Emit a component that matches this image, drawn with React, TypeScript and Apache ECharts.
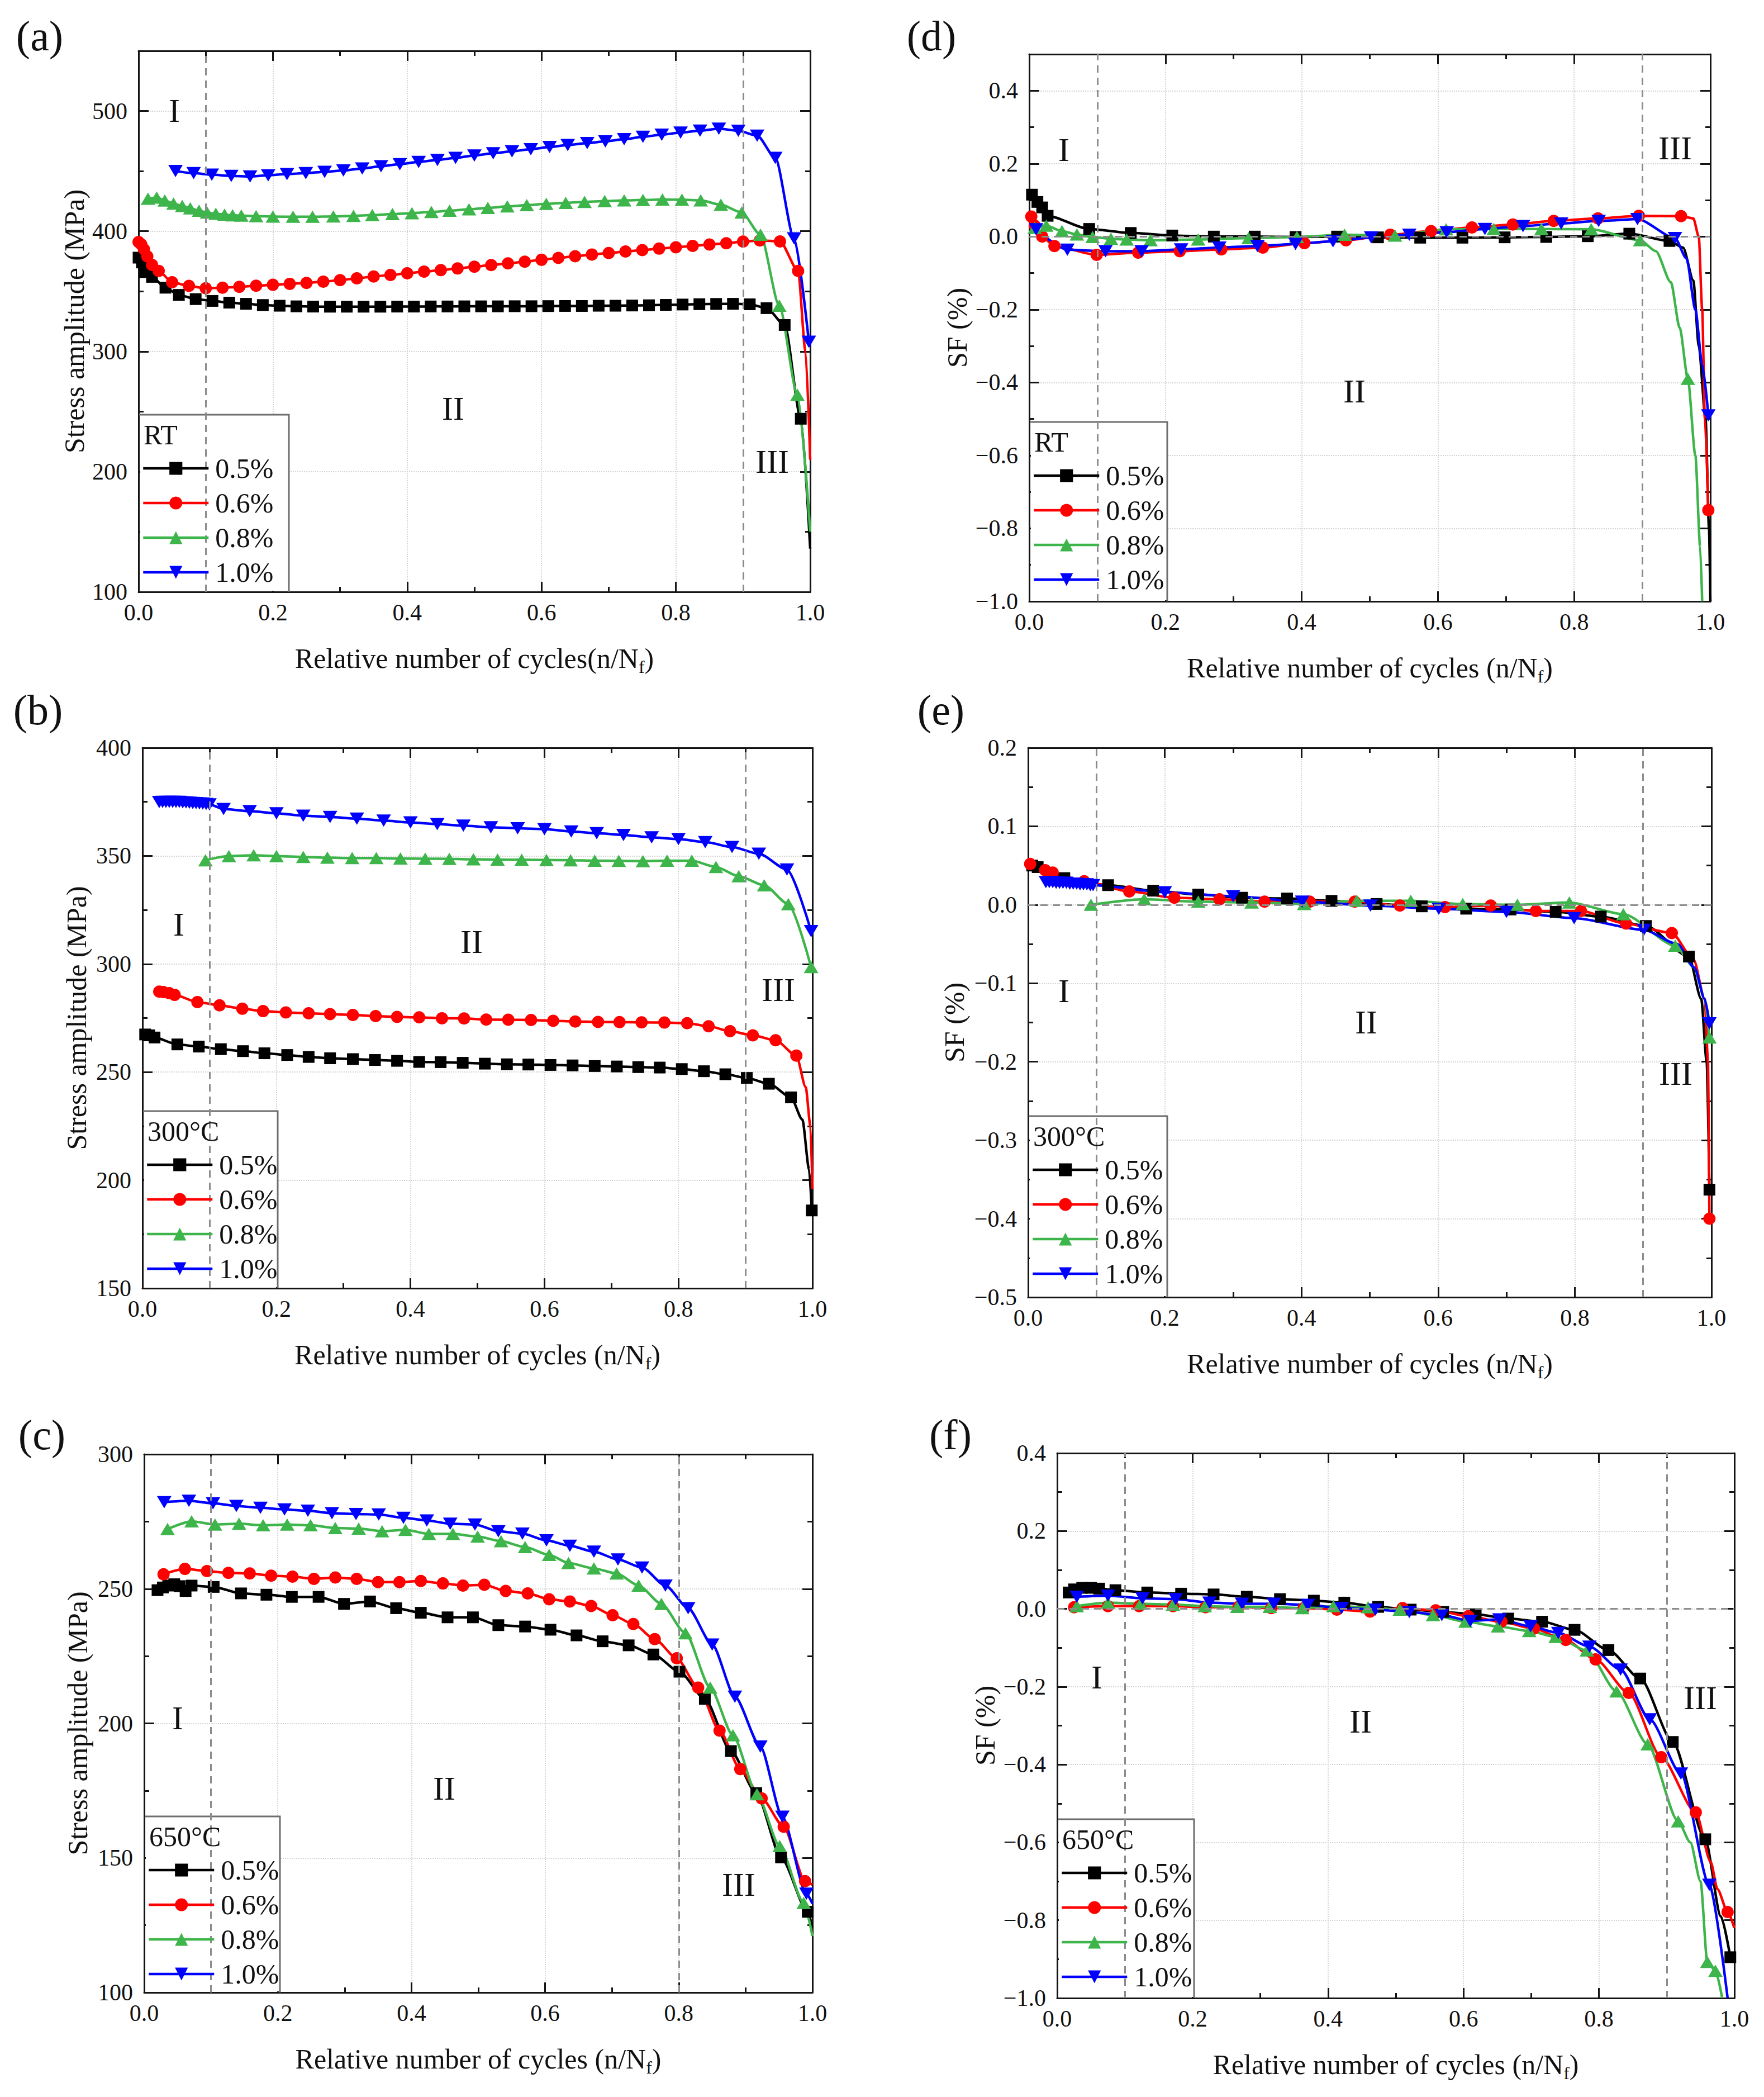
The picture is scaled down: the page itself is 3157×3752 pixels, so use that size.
import React, { useEffect, useRef } from "react";
import * as echarts from "echarts";

type Pt = [number, number];

const W = 3157;
const H = 3752;
const FONT = '"Liberation Serif", "Times New Roman", "DejaVu Serif", serif';

const STRAIN_NAMES = ["0.5%", "0.6%", "0.8%", "1.0%"];
const COLORS = ["#000000", "#ff0000", "#3db54a", "#0000ff"];
const SYMBOLS = ["rect", "circle", "triangle", "triangle"];
const ROTATIONS = [0, 0, 0, 180];
const SYMBOL_SIZES: any[] = [21, 22, [26, 22], [26, 22]];
const X_TICKS_LABEL = "Relative number of cycles";

// ---------------- (a) RT stress amplitude (MPa) ----------------
const S_RT_05: Pt[] = [[0.0,378],[0.005,374],[0.01,366],[0.02,362],[0.04,353],[0.06,347],[0.085,343.5],[0.11,342],[0.135,340.6],[0.16,339.6],[0.185,338.6],[0.21,338],[0.235,337.5],[0.26,337.3],[0.285,337.2],[0.31,337.2],[0.335,337.2],[0.36,337.2],[0.385,337.3],[0.41,337.3],[0.435,337.4],[0.46,337.4],[0.485,337.5],[0.51,337.5],[0.535,337.5],[0.56,337.6],[0.585,337.6],[0.61,337.7],[0.635,337.8],[0.66,337.8],[0.685,338],[0.71,338],[0.735,338.2],[0.76,338.4],[0.785,338.7],[0.81,339],[0.835,339.3],[0.86,339.5],[0.885,339.6],[0.91,339.2],[0.935,336],[0.962,322],[0.986,244]];
const S_RT_05_LINE: Pt[] = [[1.0,136]];
const S_RT_06: Pt[] = [[0.0,391],[0.004,389],[0.008,385],[0.013,379],[0.02,372],[0.03,367],[0.05,357.5],[0.075,354.5],[0.1,352.5],[0.125,353],[0.15,353.7],[0.175,354.6],[0.2,355.4],[0.225,356.2],[0.25,357],[0.275,358],[0.3,359.3],[0.325,360.8],[0.35,362.3],[0.375,363.6],[0.4,365],[0.425,366.4],[0.45,367.6],[0.475,369],[0.5,370.4],[0.525,371.8],[0.55,373.2],[0.575,374.6],[0.6,376.2],[0.625,377.8],[0.65,379.2],[0.675,380.6],[0.7,381.8],[0.725,383.1],[0.75,384.3],[0.775,385.5],[0.8,386.6],[0.825,387.8],[0.85,388.9],[0.875,390],[0.9,391.4],[0.925,392.3],[0.955,391.5],[0.982,367]];
const S_RT_06_LINE: Pt[] = [[0.993,300],[1.0,210]];
const S_RT_08: Pt[] = [[0.014,427],[0.027,428],[0.039,425.5],[0.052,423],[0.065,421],[0.077,419],[0.09,417],[0.102,415.5],[0.115,414.5],[0.128,413.8],[0.14,413.2],[0.153,413],[0.175,412.5],[0.2,412.2],[0.23,412],[0.259,412],[0.29,412.3],[0.32,412.8],[0.348,413.4],[0.378,414.2],[0.407,415],[0.436,416],[0.463,417],[0.492,418.2],[0.52,419.4],[0.549,420.6],[0.578,421.7],[0.607,422.7],[0.636,423.6],[0.664,424.4],[0.694,425.1],[0.723,425.6],[0.751,426],[0.78,426.3],[0.809,426.2],[0.837,425.6],[0.867,422],[0.898,415.5],[0.926,397],[0.954,338],[0.981,264]];
const S_RT_08_LINE: Pt[] = [[1.0,150]];
const S_RT_10: Pt[] = [[0.055,450],[0.082,448.3],[0.109,447],[0.138,446],[0.166,445.5],[0.193,446.5],[0.221,447.5],[0.249,448.3],[0.277,449.4],[0.305,450.5],[0.333,452.2],[0.361,454],[0.389,455.8],[0.417,457.6],[0.445,459.2],[0.472,461],[0.5,463],[0.528,464.8],[0.556,466.4],[0.584,468.2],[0.612,470],[0.639,471.7],[0.668,473.3],[0.695,474.7],[0.723,476.5],[0.751,478.5],[0.779,480.3],[0.807,482],[0.836,483.6],[0.864,485.3],[0.893,483.5],[0.921,479.5],[0.948,461],[0.976,394],[0.998,308]];
const S_RT_10_LINE: Pt[] = [];

// ---------------- (b) 300°C stress amplitude (MPa) ----------------
const S_300_05: Pt[] = [[0.004,267.4],[0.01,267],[0.018,266],[0.052,262.8],[0.084,261.8],[0.117,260.6],[0.15,259.7],[0.182,258.7],[0.216,257.9],[0.248,257],[0.28,256.4],[0.314,256],[0.347,255.6],[0.38,255.2],[0.413,254.7],[0.445,254.6],[0.478,254.3],[0.511,253.9],[0.544,253.6],[0.576,253.5],[0.609,253.3],[0.642,253.1],[0.675,252.8],[0.708,252.6],[0.74,252.3],[0.772,252.1],[0.805,251.4],[0.838,250.4],[0.87,249],[0.902,247.3],[0.935,244.6],[0.968,238.3],[0.999,186]];
const S_300_05_LINE: Pt[] = [[0.985,228],[0.995,205]];
const S_300_06: Pt[] = [[0.025,287.2],[0.031,287],[0.04,286.5],[0.048,285.7],[0.082,282.4],[0.115,280.9],[0.149,279.3],[0.18,278.2],[0.214,277.6],[0.248,277.2],[0.28,276.8],[0.314,276.4],[0.348,275.9],[0.38,275.5],[0.413,275.3],[0.447,274.9],[0.48,274.8],[0.513,274.3],[0.546,274.2],[0.58,274.1],[0.613,273.7],[0.646,273.4],[0.68,273.2],[0.712,273.1],[0.745,273],[0.779,272.9],[0.813,272.6],[0.845,271.2],[0.877,268.9],[0.911,267],[0.945,264.7],[0.976,257.6]];
const S_300_06_LINE: Pt[] = [[0.99,243],[0.997,225],[1.0,196]];
const S_300_08: Pt[] = [[0.094,348],[0.129,349.9],[0.166,350.3],[0.2,349.9],[0.24,349.5],[0.276,349.2],[0.313,349],[0.349,349],[0.385,348.8],[0.422,348.7],[0.458,348.6],[0.494,348.4],[0.53,348.3],[0.566,348.2],[0.603,348.1],[0.639,348],[0.675,347.8],[0.711,347.7],[0.747,347.6],[0.783,347.8],[0.82,347.8],[0.856,344.9],[0.89,340.6],[0.928,336.4],[0.964,327.7],[0.998,298.6]];
const S_300_08_LINE: Pt[] = [];
const S_300_10: Pt[] = [[0.025,374.9],[0.03,375],[0.035,375],[0.04,375],[0.045,375],[0.05,375],[0.055,375],[0.06,374.8],[0.065,374.7],[0.07,374.6],[0.075,374.5],[0.08,374.4],[0.085,374.3],[0.09,374.2],[0.095,374],[0.1,373.8],[0.121,371.7],[0.16,370.7],[0.2,369.7],[0.24,368.6],[0.28,368],[0.32,367.2],[0.36,366.3],[0.4,365.5],[0.44,364.7],[0.479,364],[0.52,363.2],[0.56,362.8],[0.6,362.4],[0.64,361.3],[0.678,360.5],[0.718,359.7],[0.76,358.6],[0.8,357.8],[0.84,356.4],[0.88,354.1],[0.92,351],[0.962,343.7],[0.998,315.2]];
const S_300_10_LINE: Pt[] = [];

// ---------------- (c) 650°C stress amplitude (MPa) ----------------
const S_650_05: Pt[] = [[0.02,249.5],[0.028,250.5],[0.036,251.2],[0.045,251.7],[0.053,251],[0.062,249.2],[0.071,251.2],[0.104,250.7],[0.145,248.3],[0.183,247.8],[0.221,247],[0.261,247],[0.299,244.4],[0.338,245.3],[0.377,242.8],[0.414,241.1],[0.454,239.4],[0.492,239.4],[0.53,236.5],[0.57,236],[0.608,234.8],[0.647,232.7],[0.686,230.5],[0.725,229],[0.762,225.6],[0.801,219.2],[0.839,209.1],[0.878,189.7],[0.916,174.1],[0.953,150.2],[0.993,130]];
const S_650_05_LINE: Pt[] = [[1.0,124]];
const S_650_06: Pt[] = [[0.029,255.4],[0.061,257.4],[0.094,256.6],[0.126,255.9],[0.158,255.7],[0.19,254.9],[0.222,254.5],[0.254,253.7],[0.286,254.2],[0.318,253.7],[0.35,252.5],[0.382,252.5],[0.414,252.9],[0.447,252],[0.477,251.2],[0.509,251.5],[0.541,249.2],[0.574,248.3],[0.606,246.1],[0.637,245.3],[0.669,243.6],[0.701,240.2],[0.732,236.9],[0.764,231.3],[0.797,224.2],[0.829,213.3],[0.861,197.3],[0.892,183],[0.924,172.1],[0.957,161.6],[0.989,141.4]];
const S_650_06_LINE: Pt[] = [[1.0,140]];
const S_650_08: Pt[] = [[0.035,272.2],[0.071,275.1],[0.106,273.9],[0.142,274.2],[0.178,273.6],[0.214,273.9],[0.249,273.6],[0.286,272.6],[0.321,272.4],[0.356,271.4],[0.391,271.9],[0.426,270.4],[0.462,270.4],[0.499,269.4],[0.534,267.7],[0.57,265.5],[0.606,262.6],[0.635,259.6],[0.673,257.6],[0.707,255.7],[0.74,251.2],[0.774,244.4],[0.81,233.5],[0.847,213.3],[0.881,195.6],[0.917,173.7],[0.951,154.4],[0.987,133.3]];
const S_650_08_LINE: Pt[] = [[1.0,121]];
const S_650_10: Pt[] = [[0.03,282.2],[0.067,282.7],[0.103,281.8],[0.138,280.8],[0.174,280.1],[0.21,279.5],[0.245,279],[0.281,278.1],[0.317,277.8],[0.351,277.6],[0.388,276.4],[0.423,275.4],[0.458,274.2],[0.495,273.9],[0.53,271.4],[0.566,270.5],[0.602,268],[0.637,266],[0.673,263.8],[0.709,260.9],[0.745,257.9],[0.78,251.2],[0.814,242.8],[0.85,229.3],[0.884,209.9],[0.922,191.4],[0.955,165.3],[0.991,136.7]];
const S_650_10_LINE: Pt[] = [[1.0,133]];

// ---------------- (d) RT SF (%) ----------------
const F_RT_05: Pt[] = [[0.004,0.115],[0.012,0.095],[0.019,0.08],[0.027,0.057],[0.088,0.021],[0.149,0.01],[0.21,0.003],[0.271,0.0],[0.331,0.0],[0.391,-0.001],[0.452,0.0],[0.512,-0.002],[0.574,-0.003],[0.636,-0.003],[0.698,-0.002],[0.759,-0.001],[0.82,0.001],[0.881,0.008],[0.94,-0.012]];
const F_RT_05_LINE: Pt[] = [[0.96,-0.03],[0.975,-0.12],[0.983,-0.3],[0.993,-0.5],[0.998,-0.8],[1.0,-1.0]];
const F_RT_06: Pt[] = [[0.003,0.055],[0.008,0.03],[0.019,0.0],[0.037,-0.026],[0.099,-0.05],[0.16,-0.044],[0.221,-0.04],[0.282,-0.035],[0.343,-0.03],[0.404,-0.018],[0.465,-0.01],[0.53,0.005],[0.59,0.015],[0.65,0.025],[0.71,0.033],[0.77,0.043],[0.835,0.05],[0.895,0.057],[0.957,0.056],[0.997,-0.75]];
const F_RT_06_LINE: Pt[] = [[0.975,0.05],[0.983,0.0],[0.988,-0.2],[0.992,-0.5]];
const F_RT_08: Pt[] = [[0.008,0.024],[0.025,0.03],[0.048,0.015],[0.07,0.006],[0.093,-0.001],[0.12,-0.006],[0.143,-0.008],[0.178,-0.01],[0.248,-0.008],[0.322,-0.004],[0.393,-0.001],[0.463,0.005],[0.537,0.003],[0.612,0.02],[0.682,0.021],[0.752,0.021],[0.825,0.02],[0.897,-0.01],[0.967,-0.39]];
const F_RT_08_LINE: Pt[] = [[0.92,-0.04],[0.942,-0.125],[0.955,-0.25],[0.978,-0.6],[0.985,-0.85],[0.988,-1.0]];
const F_RT_10: Pt[] = [[0.01,0.02],[0.056,-0.036],[0.112,-0.04],[0.165,-0.04],[0.223,-0.035],[0.279,-0.03],[0.335,-0.026],[0.391,-0.02],[0.446,-0.013],[0.502,-0.002],[0.558,0.005],[0.613,0.012],[0.669,0.021],[0.725,0.029],[0.781,0.036],[0.836,0.043],[0.893,0.048],[0.948,-0.004],[0.997,-0.49]];
const F_RT_10_LINE: Pt[] = [[0.965,-0.06],[0.978,-0.2],[0.988,-0.35]];

// ---------------- (e) 300°C SF (%) ----------------
const F_300_05: Pt[] = [[0.006,0.05],[0.014,0.048],[0.053,0.034],[0.117,0.025],[0.183,0.018],[0.249,0.013],[0.313,0.009],[0.379,0.008],[0.444,0.005],[0.51,0.001],[0.576,-0.002],[0.641,-0.005],[0.706,-0.006],[0.772,-0.009],[0.838,-0.015],[0.904,-0.027],[0.967,-0.066],[0.997,-0.363]];
const F_300_05_LINE: Pt[] = [[0.985,-0.12],[0.993,-0.2]];
const F_300_06: Pt[] = [[0.003,0.052],[0.025,0.044],[0.036,0.041],[0.082,0.03],[0.148,0.017],[0.214,0.009],[0.28,0.007],[0.346,0.004],[0.412,0.004],[0.478,0.004],[0.544,-0.001],[0.61,-0.003],[0.677,-0.001],[0.743,-0.008],[0.809,-0.008],[0.875,-0.024],[0.942,-0.036],[0.997,-0.4]];
const F_300_06_LINE: Pt[] = [[0.974,-0.07],[0.99,-0.12],[0.995,-0.2]];
const F_300_08: Pt[] = [[0.092,0.0],[0.17,0.007],[0.249,0.004],[0.327,0.003],[0.404,0.001],[0.481,0.005],[0.56,0.005],[0.636,0.001],[0.716,0.0],[0.792,0.003],[0.871,-0.012],[0.947,-0.052],[0.997,-0.169]];
const F_300_08_LINE: Pt[] = [[0.975,-0.08],[0.99,-0.12]];
const F_300_10: Pt[] = [[0.026,0.029],[0.031,0.029],[0.036,0.029],[0.041,0.028],[0.046,0.028],[0.051,0.028],[0.056,0.028],[0.061,0.027],[0.066,0.027],[0.071,0.027],[0.076,0.026],[0.081,0.026],[0.086,0.026],[0.091,0.025],[0.095,0.025],[0.2,0.016],[0.3,0.011],[0.401,0.004],[0.501,-0.001],[0.601,-0.005],[0.7,-0.009],[0.799,-0.017],[0.901,-0.032],[0.997,-0.151]];
const F_300_10_LINE: Pt[] = [[0.95,-0.05],[0.975,-0.08],[0.99,-0.12]];

// ---------------- (f) 650°C SF (%) ----------------
const F_650_05: Pt[] = [[0.017,0.042],[0.025,0.05],[0.037,0.054],[0.05,0.054],[0.062,0.052],[0.086,0.048],[0.133,0.042],[0.183,0.039],[0.231,0.037],[0.28,0.031],[0.329,0.025],[0.379,0.021],[0.424,0.016],[0.474,0.005],[0.522,-0.002],[0.57,-0.008],[0.618,-0.014],[0.666,-0.025],[0.716,-0.033],[0.764,-0.054],[0.814,-0.106],[0.861,-0.179],[0.909,-0.342],[0.957,-0.592],[0.994,-0.895]];
const F_650_05_LINE: Pt[] = [[0.98,-0.79]];
const F_650_06: Pt[] = [[0.025,0.004],[0.075,0.007],[0.121,0.007],[0.171,0.007],[0.219,0.004],[0.268,0.005],[0.316,0.002],[0.364,0.002],[0.413,-0.002],[0.462,-0.007],[0.51,0.002],[0.559,-0.004],[0.607,-0.019],[0.656,-0.033],[0.704,-0.051],[0.751,-0.08],[0.795,-0.13],[0.844,-0.216],[0.892,-0.381],[0.943,-0.523],[0.99,-0.779]];
const F_650_06_LINE: Pt[] = [[0.965,-0.65],[0.975,-0.72],[1.0,-0.82]];
const F_650_08: Pt[] = [[0.029,0.007],[0.075,0.016],[0.123,0.013],[0.171,0.011],[0.218,0.007],[0.266,0.005],[0.314,0.005],[0.362,0.002],[0.408,0.007],[0.459,0.004],[0.506,-0.002],[0.555,-0.016],[0.603,-0.033],[0.651,-0.045],[0.697,-0.057],[0.736,-0.072],[0.782,-0.107],[0.826,-0.212],[0.872,-0.348],[0.917,-0.546],[0.96,-0.907],[0.972,-0.93]];
const F_650_08_LINE: Pt[] = [[0.935,-0.6],[0.95,-0.7],[0.982,-1.0]];
const F_650_10: Pt[] = [[0.029,0.031],[0.075,0.034],[0.126,0.027],[0.175,0.025],[0.225,0.016],[0.273,0.013],[0.32,0.013],[0.37,0.01],[0.42,0.002],[0.47,-0.002],[0.52,-0.008],[0.568,-0.016],[0.61,-0.031],[0.653,-0.027],[0.699,-0.045],[0.74,-0.062],[0.786,-0.097],[0.832,-0.156],[0.875,-0.284],[0.921,-0.423],[0.963,-0.709]];
const F_650_10_LINE: Pt[] = [[0.99,-1.0]];

// ---------------- panel layout ----------------
const STRESS_NAME = "Stress amplitude (MPa)";
const SF_NAME = "SF (%)";

const PANELS = [
  {
    tag: "(a)", tagPos: [71, 64], grid: { left: 248, top: 91, width: 1202, height: 968 },
    y: { min: 100, max: 550, interval: 100, dec: 0 }, yName: STRESS_NAME, yGap: 90, xSep: "", xGap: 88,
    phases: [0.1, 0.9], zero: false, title: "RT", box: { left: 249, top: 742, width: 268 },
    romans: [["I", 312, 198], ["II", 811, 731], ["III", 1382, 826]],
    curves: [[S_RT_05, S_RT_05_LINE], [S_RT_06, S_RT_06_LINE], [S_RT_08, S_RT_08_LINE], [S_RT_10, S_RT_10_LINE]],
  },
  {
    tag: "(b)", tagPos: [68, 1270], grid: { left: 255, top: 1338, width: 1199, height: 967 },
    y: { min: 150, max: 400, interval: 50, dec: 0 }, yName: STRESS_NAME, yGap: 93, xSep: " ", xGap: 88,
    phases: [0.1, 0.9], zero: false, title: "300°C", box: { left: 256, top: 1988, width: 241 },
    romans: [["I", 320, 1654], ["II", 844, 1685], ["III", 1393, 1771]],
    curves: [[S_300_05, S_300_05_LINE], [S_300_06, S_300_06_LINE], [S_300_08, S_300_08_LINE], [S_300_10, S_300_10_LINE]],
  },
  {
    tag: "(c)", tagPos: [75, 2567], grid: { left: 258, top: 2602, width: 1196, height: 963 },
    y: { min: 100, max: 300, interval: 50, dec: 0 }, yName: STRESS_NAME, yGap: 94, xSep: " ", xGap: 88,
    phases: [0.1, 0.8], zero: false, title: "650°C", box: { left: 259, top: 3250, width: 242 },
    romans: [["I", 318, 3074], ["II", 795, 3200], ["III", 1322, 3372]],
    curves: [[S_650_05, S_650_05_LINE], [S_650_06, S_650_06_LINE], [S_650_08, S_650_08_LINE], [S_650_10, S_650_10_LINE]],
  },
  {
    tag: "(d)", tagPos: [1667, 64], grid: { left: 1842, top: 97, width: 1219, height: 979 },
    y: { min: -1.0, max: 0.5, interval: 0.2, dec: 1 }, yName: SF_NAME, yGap: 104, xSep: " ", xGap: 88,
    phases: [0.1, 0.9], zero: true, title: "RT", box: { left: 1843, top: 755, width: 246 },
    romans: [["I", 1904, 268], ["II", 2424, 700], ["III", 2998, 265]],
    curves: [[F_RT_05, F_RT_05_LINE], [F_RT_06, F_RT_06_LINE], [F_RT_08, F_RT_08_LINE], [F_RT_10, F_RT_10_LINE]],
  },
  {
    tag: "(e)", tagPos: [1684, 1270], grid: { left: 1840, top: 1338, width: 1223, height: 983 },
    y: { min: -0.5, max: 0.2, interval: 0.1, dec: 1 }, yName: SF_NAME, yGap: 107, xSep: " ", xGap: 88,
    phases: [0.1, 0.9], zero: true, title: "300°C", box: { left: 1841, top: 1997, width: 248 },
    romans: [["I", 1904, 1773], ["II", 2445, 1829], ["III", 2999, 1921]],
    curves: [[F_300_05, F_300_05_LINE], [F_300_06, F_300_06_LINE], [F_300_08, F_300_08_LINE], [F_300_10, F_300_10_LINE]],
  },
  {
    tag: "(f)", tagPos: [1701, 2567], grid: { left: 1892, top: 2600, width: 1212, height: 975 },
    y: { min: -1.0, max: 0.4, interval: 0.2, dec: 1 }, yName: SF_NAME, yGap: 104, xSep: " ", xGap: 88,
    phases: [0.1, 0.9], zero: true, title: "650°C", box: { left: 1893, top: 3255, width: 244 },
    romans: [["I", 1963, 3001], ["II", 2435, 3080], ["III", 3043, 3038]],
    curves: [[F_650_05, F_650_05_LINE], [F_650_06, F_650_06_LINE], [F_650_08, F_650_08_LINE], [F_650_10, F_650_10_LINE]],
  },
];

const AX = "#141414";
const TXT = "#111111";

function fmt(v: number, d: number): string {
  const val = Math.abs(v) < 1e-9 ? 0 : v;
  const s = val.toFixed(d);
  return s.charAt(0) === "-" ? "\u2212" + s.slice(1) : s;
}

function buildOption() {
  const grids: any[] = [];
  const xAxes: any[] = [];
  const yAxes: any[] = [];
  const series: any[] = [];
  const legends: any[] = [];
  const graphics: any[] = [];

  PANELS.forEach((p, gi) => {
    grids.push({ ...p.grid, containLabel: false });
    const tickCommon = {
      axisLine: { show: true, onZero: false, lineStyle: { color: AX, width: 3 } },
      axisTick: { show: true, inside: true, length: 18, lineStyle: { color: AX, width: 3 } },
      minorTick: { show: true, splitNumber: 2, length: 9, lineStyle: { color: AX, width: 3 } },
    };
    const split = { show: true, lineStyle: { color: "#d4d4d4", width: 2, type: "dotted" } };
    const xLabel = {
      fontSize: 42, fontFamily: FONT, color: TXT, margin: 16,
      formatter: (v: number) => fmt(v, 1),
    };
    xAxes.push({
      type: "value", gridIndex: gi, min: 0, max: 1, interval: 0.2, position: "bottom",
      ...tickCommon, axisLabel: xLabel, splitLine: split,
      name: "{m|" + X_TICKS_LABEL + p.xSep + "(n/N}{s|f}{m|)}",
      nameLocation: "middle", nameGap: p.xGap,
      nameTextStyle: {
        fontFamily: FONT, fontSize: 50, color: TXT,
        rich: {
          m: { fontFamily: FONT, fontSize: 50, color: TXT, lineHeight: 62 },
          s: { fontFamily: FONT, fontSize: 32, color: TXT, lineHeight: 32, verticalAlign: "bottom" },
        },
      },
    });
    xAxes.push({
      type: "value", gridIndex: gi, min: 0, max: 1, interval: 0.2, position: "top",
      ...tickCommon, axisLabel: { show: false }, splitLine: { show: false },
    });
    const yi = p.y;
    yAxes.push({
      type: "value", gridIndex: gi, min: yi.min, max: yi.max, interval: yi.interval, position: "left",
      ...tickCommon, splitLine: split,
      axisLabel: {
        fontSize: 42, fontFamily: FONT, color: TXT, margin: 20,
        formatter: (v: number) => {
          const k = Math.round((v - yi.min) / yi.interval);
          if (Math.abs(yi.min + k * yi.interval - v) > 1e-6) return "";
          return fmt(v, yi.dec);
        },
      },
      name: p.yName, nameLocation: "middle", nameGap: p.yGap, nameRotate: 90,
      nameTextStyle: { fontFamily: FONT, fontSize: 50, color: TXT },
    });
    yAxes.push({
      type: "value", gridIndex: gi, min: yi.min, max: yi.max, interval: yi.interval, position: "right",
      ...tickCommon, axisLabel: { show: false }, splitLine: { show: false },
    });

    p.curves.forEach((c, ci) => {
      const pts = c[0] as Pt[];
      const extra = c[1] as Pt[];
      const lineData = [...pts, ...extra].sort((a, b) => a[0] - b[0]);
      const markLineData: any[] = p.phases.map((x) => ({ xAxis: x }));
      if (p.zero) markLineData.push({ yAxis: 0 });
      series.push({
        type: "line", name: STRAIN_NAMES[ci], xAxisIndex: 2 * gi, yAxisIndex: 2 * gi,
        data: lineData, smooth: 0.25, smoothMonotone: "x", showSymbol: false,
        symbol: SYMBOLS[ci], symbolRotate: ROTATIONS[ci], symbolSize: 22,
        lineStyle: { color: COLORS[ci], width: 4.5 }, itemStyle: { color: COLORS[ci] },
        silent: true, z: 2,
        markLine: ci === 0 ? {
          silent: true, symbol: ["none", "none"], label: { show: false },
          lineStyle: { type: [13, 9], color: "#8c8c8c", width: 3 },
          data: markLineData,
        } : undefined,
      });
      series.push({
        type: "scatter", name: STRAIN_NAMES[ci], xAxisIndex: 2 * gi, yAxisIndex: 2 * gi,
        data: pts, symbol: SYMBOLS[ci], symbolRotate: ROTATIONS[ci],
        symbolSize: SYMBOL_SIZES[ci],
        itemStyle: { color: COLORS[ci], opacity: 1 }, silent: true, z: 2,
      });
    });

    const bottom = p.grid.top + p.grid.height;
    const bx = p.box.left;
    const by = p.box.top;
    const bw = p.box.width;
    legends.push({
      orient: "vertical", left: bx + 5, top: by + 71, padding: 0,
      itemWidth: 117, itemHeight: 29, itemGap: 12,
      data: STRAIN_NAMES, selectedMode: false, z: 6,
      lineStyle: { width: 4.5 },
      textStyle: { fontSize: 50, fontFamily: FONT, color: TXT, lineHeight: 50, padding: [0, 0, 0, 7] },
    });
    graphics.push({
      type: "rect", shape: { x: bx + 2, y: by, width: bw - 2, height: bottom - by - 2 },
      style: { fill: "#ffffff", stroke: null }, z: 4, silent: true,
    });
    graphics.push({
      type: "polyline", shape: { points: [[bx, by], [bx + bw, by], [bx + bw, bottom]] },
      style: { stroke: "#6e6e6e", lineWidth: 3, fill: null }, z: 5, silent: true,
    });
    graphics.push({
      type: "text", x: bx + 8, y: by + 36, z: 7, silent: true,
      style: { text: p.title, fontSize: 50, fontFamily: FONT, fill: TXT, align: "left", verticalAlign: "middle" },
    });
    graphics.push({
      type: "text", x: p.tagPos[0], y: p.tagPos[1], z: 7, silent: true,
      style: { text: p.tag, fontSize: 76, fontFamily: FONT, fill: TXT, align: "center", verticalAlign: "middle" },
    });
    p.romans.forEach((r) => {
      graphics.push({
        type: "text", x: r[1] as number, y: r[2] as number, z: 7, silent: true,
        style: { text: r[0] as string, fontSize: 60, fontFamily: FONT, fill: TXT, align: "center", verticalAlign: "middle" },
      });
    });
  });

  return {
    animation: false,
    backgroundColor: "#ffffff",
    textStyle: { fontFamily: FONT },
    grid: grids,
    xAxis: xAxes,
    yAxis: yAxes,
    legend: legends,
    series,
    graphic: graphics,
  };
}

export default function App() {
  const ref = useRef<HTMLDivElement>(null);
  useEffect(() => {
    if (!ref.current) return;
    const chart = echarts.init(ref.current, undefined, { renderer: "svg", width: W, height: H });
    chart.setOption(buildOption() as any);
    return () => {
      chart.dispose();
    };
  }, []);
  return (
    <div
      ref={ref}
      style={{ position: "absolute", left: 0, top: 0, width: W, height: H, background: "#ffffff" }}
    />
  );
}
